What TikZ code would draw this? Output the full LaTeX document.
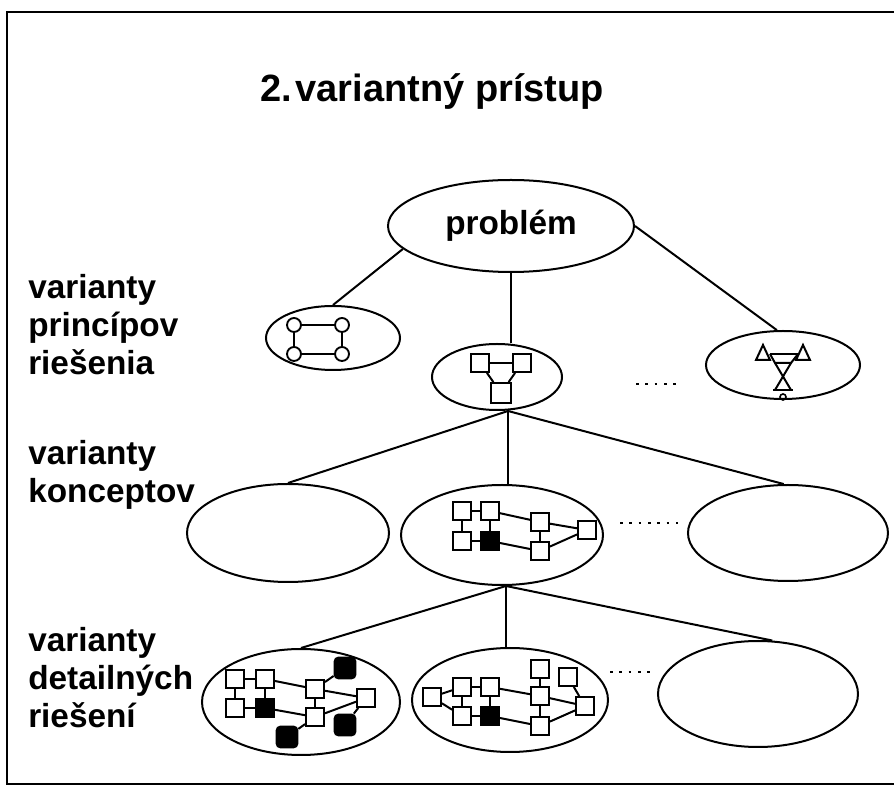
\documentclass[tikz,border=0pt]{standalone}
\usepackage{fontspec}
\setmainfont{Liberation Sans}
\usetikzlibrary{shapes.geometric}
\tikzset{
  ln/.style={line width=1.5pt},
  ell/.style={ellipse, draw, line width=1.5pt, inner sep=0pt},
  sq/.style={draw, line width=1.4pt, fill=white, minimum size=13.5pt, inner sep=0pt},
  bsq/.style={sq, fill=black},
  bblob/.style={draw, fill=black, line width=1pt, rounded corners=3pt, minimum size=16pt, inner sep=0pt},
  circ/.style={circle, draw, line width=1.4pt, minimum size=10.5pt, inner sep=0pt},
  lbl/.style={font=\fontsize{25pt}{28pt}\selectfont\bfseries, anchor=base west, inner sep=0pt},
  dots/.style={line width=2.2pt, dash pattern=on 2pt off 5pt},
}
\begin{document}
\begin{tikzpicture}[x=0.75pt,y=-0.75pt]
\useasboundingbox (0,0) rectangle (894,787);
% frame
\draw[line width=1.8pt] (894,12) -- (7,12) -- (7,784) -- (894,784);

% title
\node[font=\fontsize{28.5pt}{30pt}\selectfont\bfseries, inner sep=0pt] (title) at (432,92) {2.\kern3pt variantný prístup};

% labels
\node[lbl] (l1a) at (28,299) {varianty};
\node[lbl] (l1b) at (28,337) {princípov};
\node[lbl] (l1c) at (28,375) {riešenia};
\node[lbl] (l2a) at (28,465) {varianty};
\node[lbl] (l2b) at (28,503) {konceptov};
\node[lbl] (l3a) at (28,652) {varianty};
\node[lbl] (l3b) at (28,690) {detailných};
\node[lbl] (l3c) at (28,728) {riešení};

% ellipses
\node[ell, minimum width=184.5pt, minimum height=69pt, font=\fontsize{25pt}{28pt}\selectfont\bfseries] (prob) at (511,226) {problém};
\node[ell, minimum width=100.5pt, minimum height=48pt] (p1) at (333,338) {};
\node[ell, minimum width=97.5pt, minimum height=49.5pt] (p2) at (497,377) {};
\node[ell, minimum width=115.5pt, minimum height=51pt] (p3) at (783,365) {};
\node[ell, minimum width=151.5pt, minimum height=73.5pt] (k1) at (288,533) {};
\node[ell, minimum width=151.5pt, minimum height=75pt] (k2) at (502,535) {};
\node[ell, minimum width=150pt, minimum height=72pt] (k3) at (788,533) {};
\node[ell, minimum width=148.5pt, minimum height=79.5pt] (d1) at (301,702) {};
\node[ell, minimum width=147pt, minimum height=78pt] (d2) at (510,700) {};
\node[ell, minimum width=150pt, minimum height=79.5pt] (d3) at (758,694) {};

% connectors
\coordinate (f1) at (508,411);
\coordinate (k2t) at (508,486);
\coordinate (f2) at (506,586);
\coordinate (d2t) at (506,648);
\draw[ln] (prob.192) -- (p1.north);
\draw[ln] (prob.south) -- (p2.north -| prob.south);
\draw[ln] (prob.east) -- (p3.100);
\draw[ln] (f1) -- (k1.north);
\draw[ln] (f1) -- (k2t);
\draw[ln] (f1) -- (k3.95);
\draw[ln] (f2) -- (d1.north);
\draw[ln] (f2) -- (d2t);
\draw[ln] (f2) -- (d3.75);

% dotted gaps
\coordinate (da1) at (636,384); \coordinate (da2) at (680,384);
\coordinate (db1) at (620,523); \coordinate (db2) at (678,523);
\coordinate (dc1) at (610,672); \coordinate (dc2) at (656,672);
\draw[dots] (da1) -- (da2);
\draw[dots] (db1) -- (db2);
\draw[dots] (dc1) -- (dc2);

% p1 icon
\node[circ] (c1) at (294,325) {};
\node[circ] (c2) at (342,325) {};
\node[circ] (c3) at (294,354) {};
\node[circ] (c4) at (342,354) {};
\draw[ln] (c1) -- (c2); \draw[ln] (c3) -- (c4);
\draw[ln] (c1) -- (c3); \draw[ln] (c2) -- (c4);

% p2 icon
\node[sq] (t1) at (480,363) {};
\node[sq] (t2) at (522,363) {};
\node[sq, minimum size=15pt] (t3) at (501,393) {};
\draw[ln] (t1) -- (t2); \draw[ln] (t1) -- (t3); \draw[ln] (t2) -- (t3);

% p3 icon
\draw[ln] (763,345) -- (770,360) -- (756,360) -- cycle;
\draw[ln] (803,345) -- (810,360) -- (796,360) -- cycle;
\draw[ln] (770,354) -- (798,354);
\draw[ln] (770,354) -- (775,363) -- (791,363) -- (798,354);
\draw[ln] (775,363) -- (791,390);
\draw[ln] (791,363) -- (775,390);
\draw[ln] (773,390) -- (793,390);
\draw[line width=1.2pt] (783,397) circle (3);

% k2 icon
\node[sq] (a) at (462,511) {};
\node[sq] (b) at (490,511) {};
\node[sq] (c) at (462,541) {};
\node[bsq] (d) at (490,541) {};
\node[sq] (e) at (540,522) {};
\node[sq] (f) at (540,551) {};
\node[sq] (g) at (587,530) {};
\draw[ln] (a) -- (b); \draw[ln] (c) -- (d);
\draw[ln] (a) -- (c); \draw[ln] (b) -- (d);
\draw[ln] (b) -- (e); \draw[ln] (d) -- (f);
\draw[ln] (e) -- (f); \draw[ln] (e) -- (g); \draw[ln] (f) -- (g);

% d1 icon
\node[sq] (s1) at (235,679) {};
\node[sq] (s2) at (265,679) {};
\node[sq] (s3) at (235,708) {};
\node[bsq] (s4) at (265,708) {};
\node[sq] (s5) at (315,689) {};
\node[sq] (s6) at (315,717) {};
\node[sq] (s7) at (366,698) {};
\node[bblob] (b1) at (345,668) {};
\node[bblob] (b2) at (345,725) {};
\node[bblob] (b3) at (287,737) {};
\draw[ln] (s1) -- (s2); \draw[ln] (s3) -- (s4);
\draw[ln] (s1) -- (s3); \draw[ln] (s2) -- (s4);
\draw[ln] (s2) -- (s5); \draw[ln] (s4) -- (s6);
\draw[ln] (s5) -- (s6); \draw[ln] (s5) -- (s7); \draw[ln] (s6) -- (s7);
\draw[ln] (b1) -- (s5); \draw[ln] (s7) -- (b2); \draw[ln] (s6) -- (b3);

% d2 icon
\node[sq] (q1) at (432,697) {};
\node[sq] (q2) at (462,687) {};
\node[sq] (q3) at (490,687) {};
\node[sq] (q4) at (462,716) {};
\node[bsq] (q5) at (490,716) {};
\node[sq] (q6) at (540,669) {};
\node[sq] (q7) at (540,696) {};
\node[sq] (q8) at (540,726) {};
\node[sq] (q9) at (568,677) {};
\node[sq] (q10) at (585,706) {};
\draw[ln] (q1) -- (q2); \draw[ln] (q1) -- (q4);
\draw[ln] (q2) -- (q3); \draw[ln] (q4) -- (q5);
\draw[ln] (q2) -- (q4); \draw[ln] (q3) -- (q5);
\draw[ln] (q3) -- (q7); \draw[ln] (q5) -- (q8);
\draw[ln] (q6) -- (q7); \draw[ln] (q7) -- (q8);
\draw[ln] (q7) -- (q10); \draw[ln] (q8) -- (q10); \draw[ln] (q9) -- (q10);
\end{tikzpicture}
\end{document}
